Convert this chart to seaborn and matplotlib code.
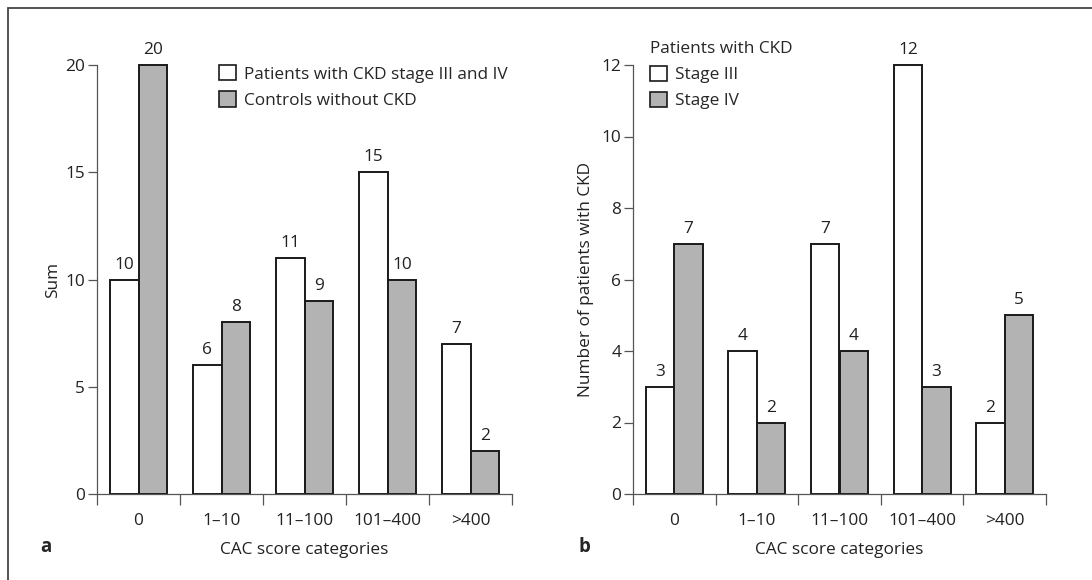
import matplotlib
matplotlib.use("Agg")
import matplotlib.pyplot as plt
from matplotlib.patches import Patch, Rectangle
from matplotlib.ticker import FixedLocator, NullFormatter
import seaborn as sns
import pandas as pd

# CAC score categories
categories = ["0", "1\u201310", "11\u2013100", "101\u2013400", ">400"]

# Panel a: CKD patients vs. controls
ckd_patients = [10, 6, 11, 15, 7]
controls = [20, 8, 9, 10, 2]
series_a = ["Patients with CKD stage III and IV", "Controls without CKD"]

# Panel b: CKD patients by stage
stage_iii = [3, 4, 7, 12, 2]
stage_iv = [7, 2, 4, 3, 5]
series_b = ["Stage III", "Stage IV"]

sns.set_theme(style="white")
plt.rcParams["font.family"] = ["Open Sans", "DejaVu Sans"]
FS = 12.4
EDGE = "#1a1a1a"
AXC = "#555555"
TXT = "#222222"
GREY = "#b3b3b3"
palette = ["white", GREY]

W, H = 1092, 580
fig = plt.figure(figsize=(W / 100, H / 100), dpi=100)
fig.patch.set_facecolor("white")

# outer frame
fig.patches.append(Rectangle((8 / W, -0.2), 1.5, 1.2 - 8 / H, transform=fig.transFigure,
                             fill=False, edgecolor="#444444", lw=1.3, clip_on=False))


def long_form(a, b, names):
    return pd.DataFrame({
        "category": categories * 2,
        "value": list(a) + list(b),
        "group": [names[0]] * len(a) + [names[1]] * len(b),
    })


def draw_panel(ax, df, names, ymax, ystep, ylabel, ylabel_x):
    sns.barplot(data=df, x="category", y="value", hue="group", order=categories,
                hue_order=names, palette=palette, width=0.69, dodge=True,
                edgecolor=EDGE, linewidth=1.4, legend=False, ax=ax, errorbar=None)
    for c in ax.containers:
        for p in c:
            p.set_clip_on(False)
        ax.bar_label(c, fmt="%d", padding=5, fontsize=FS, color=TXT)
    ax.set_xlim(-0.5, len(categories) - 0.5)
    ax.set_ylim(0, ymax)
    ax.set_yticks(range(0, ymax + 1, ystep))
    ax.tick_params(axis="y", direction="out", length=6.5, width=0.9, color=AXC,
                   labelsize=FS, pad=2, left=True, labelcolor=TXT)
    ax.tick_params(axis="x", which="major", length=0, labelsize=FS, pad=14,
                   labelcolor=TXT, bottom=True)
    ax.xaxis.set_minor_locator(FixedLocator([i - 0.5 for i in range(len(categories) + 1)]))
    ax.xaxis.set_minor_formatter(NullFormatter())
    ax.tick_params(axis="x", which="minor", direction="out", length=8, width=0.9,
                   color=AXC, bottom=True)
    for s in ["top", "right"]:
        ax.spines[s].set_visible(False)
    for s in ["left", "bottom"]:
        ax.spines[s].set_color(AXC)
        ax.spines[s].set_linewidth(0.9)
    ax.set_xlabel("CAC score categories", fontsize=FS, color=TXT, labelpad=9)
    ax.set_ylabel(ylabel, fontsize=FS, color=TXT)
    ax.yaxis.set_label_coords(ylabel_x, 0.5)
    ax.set_facecolor("white")


# panel a
ax_a = fig.add_axes([97 / W, 1 - 494 / H, 415 / W, 429 / H])
draw_panel(ax_a, long_form(ckd_patients, controls, series_a), series_a, 20, 5, "Sum", -0.087)
handles_a = [Patch(facecolor=palette[i], edgecolor=EDGE, linewidth=1.2, label=series_a[i])
             for i in range(2)]
ax_a.legend(handles=handles_a, loc="upper left", bbox_to_anchor=((219 - 97) / 415, 1.0),
            frameon=False, fontsize=FS, handlelength=1.0, handleheight=1.0,
            handletextpad=0.45, labelspacing=0.5, borderpad=0, borderaxespad=0)

# panel b
ax_b = fig.add_axes([633 / W, 1 - 494 / H, 413 / W, 429 / H])
draw_panel(ax_b, long_form(stage_iii, stage_iv, series_b), series_b, 12, 2,
           "Number of patients with CKD", -0.095)
handles_b = [Patch(facecolor=palette[i], edgecolor=EDGE, linewidth=1.2, label=series_b[i])
             for i in range(2)]
ax_b.legend(handles=handles_b, loc="upper left", bbox_to_anchor=((650 - 633) / 413, 1.056),
            frameon=False, fontsize=FS, title="Patients with CKD", title_fontsize=FS,
            alignment="left", handlelength=1.0, handleheight=1.0,
            handletextpad=0.45, labelspacing=0.5, borderpad=0, borderaxespad=0)

# panel letters
fig.text(40 / W, 1 - 547 / H, "a", fontsize=FS + 1, fontweight="bold", va="center", ha="left")
fig.text(578 / W, 1 - 547 / H, "b", fontsize=FS + 1, fontweight="bold", va="center", ha="left")

fig.savefig("out.png", dpi=100, facecolor="white")
